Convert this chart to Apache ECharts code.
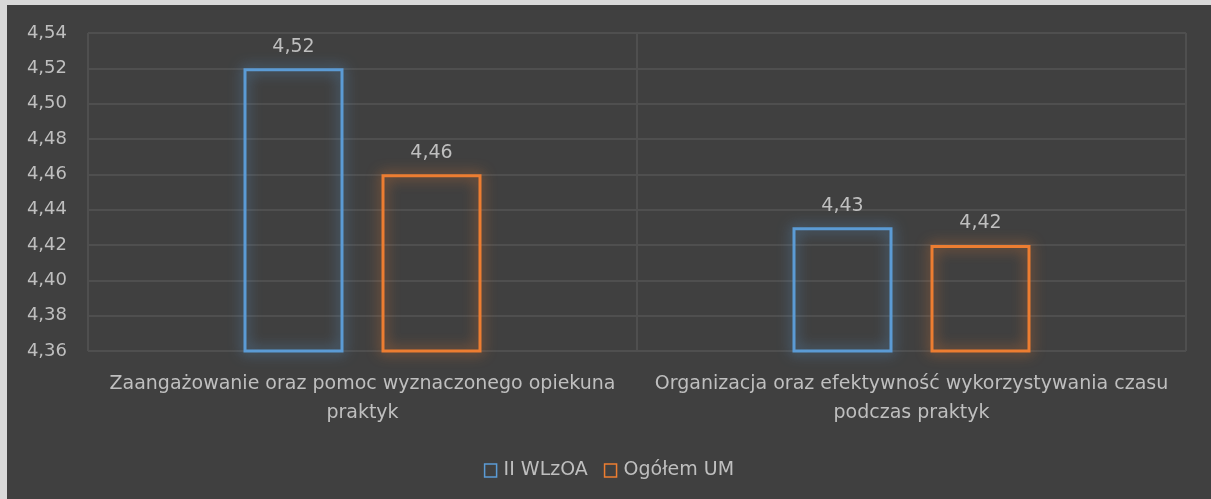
<!DOCTYPE html>
<html>
<head>
<meta charset="utf-8">
<script src="https://cdn.jsdelivr.net/npm/echarts@6/dist/echarts.min.js"></script>
<style>
  html, body { margin: 0; padding: 0; background: #404040; width: 100%; height: 100%; overflow: hidden; }
  #edgeTop { position: fixed; left: 0; top: 0; width: 100%; height: 5px; background: #d9d9d9; }
  #edgeLeft { position: fixed; left: 0; top: 0; width: 7px; height: 100%; background: #d9d9d9; }
  #chart { position: absolute; left: 7px; top: 5px; width: 1204px; height: 494px; }
</style>
</head>
<body>
<div id="chart"></div>
<div id="edgeTop"></div>
<div id="edgeLeft"></div>
<script>
const categories = [
  'Zaangażowanie oraz pomoc wyznaczonego opiekuna\npraktyk',
  'Organizacja oraz efektywność wykorzystywania czasu\npodczas praktyk'
]
const seriesNames = ['II WLzOA', 'Ogółem UM']
const wlzoa = [4.52, 4.43]
const ogolem = [4.46, 4.42]
const yMin = 4.36
const yMax = 4.54
const yStep = 0.02

const colors = ['#5b9bd5', '#ed7d31']
const glows = ['rgba(91,155,213,0.85)', 'rgba(237,125,49,0.85)']
const textColor = '#bfbfbf'
const font = '"DejaVu Sans", sans-serif'

const fmt = (v) => Number(v).toFixed(2).replace('.', ',')

function barSeries(name, data, i) {
  return {
    name,
    type: 'bar',
    data,
    barWidth: 100,
    barGap: '38%',
    itemStyle: {
      color: 'rgba(0,0,0,0)',
      borderColor: colors[i],
      borderWidth: 3,
      shadowBlur: 14,
      shadowColor: glows[i]
    },
    label: {
      show: true,
      position: 'top',
      distance: 12,
      color: textColor,
      fontFamily: font,
      fontSize: 19,
      formatter: (p) => fmt(p.value)
    }
  }
}

const chart = echarts.init(document.getElementById('chart'))
chart.setOption({
  backgroundColor: '#404040',
  animation: false,
  grid: { left: 81, right: 25, top: 28, bottom: 148 },
  legend: {
    data: seriesNames,
    left: 'center',
    top: 451,
    itemWidth: 12,
    itemHeight: 13,
    itemGap: 16,
    icon: 'rect',
    itemStyle: { color: 'rgba(0,0,0,0)', borderWidth: 1.5, shadowBlur: 0 },
    textStyle: { color: textColor, fontFamily: font, fontSize: 19, padding: [0, 0, 0, 2] }
  },
  xAxis: {
    type: 'category',
    data: categories,
    axisLine: { show: false },
    axisTick: { show: false },
    splitLine: { show: true, lineStyle: { color: '#4f4f4f', width: 2 } },
    axisLabel: {
      color: textColor,
      fontFamily: font,
      fontSize: 19,
      lineHeight: 29,
      margin: 19,
      interval: 0
    }
  },
  yAxis: {
    type: 'value',
    min: yMin,
    max: yMax,
    interval: yStep,
    axisLine: { show: false },
    axisTick: { show: false },
    splitLine: { lineStyle: { color: '#4f4f4f', width: 2 } },
    axisLabel: {
      color: textColor,
      fontFamily: font,
      fontSize: 18,
      margin: 21,
      formatter: (v) => fmt(v)
    }
  },
  series: [
    barSeries(seriesNames[0], wlzoa, 0),
    barSeries(seriesNames[1], ogolem, 1)
  ]
})
</script>
</body>
</html>
